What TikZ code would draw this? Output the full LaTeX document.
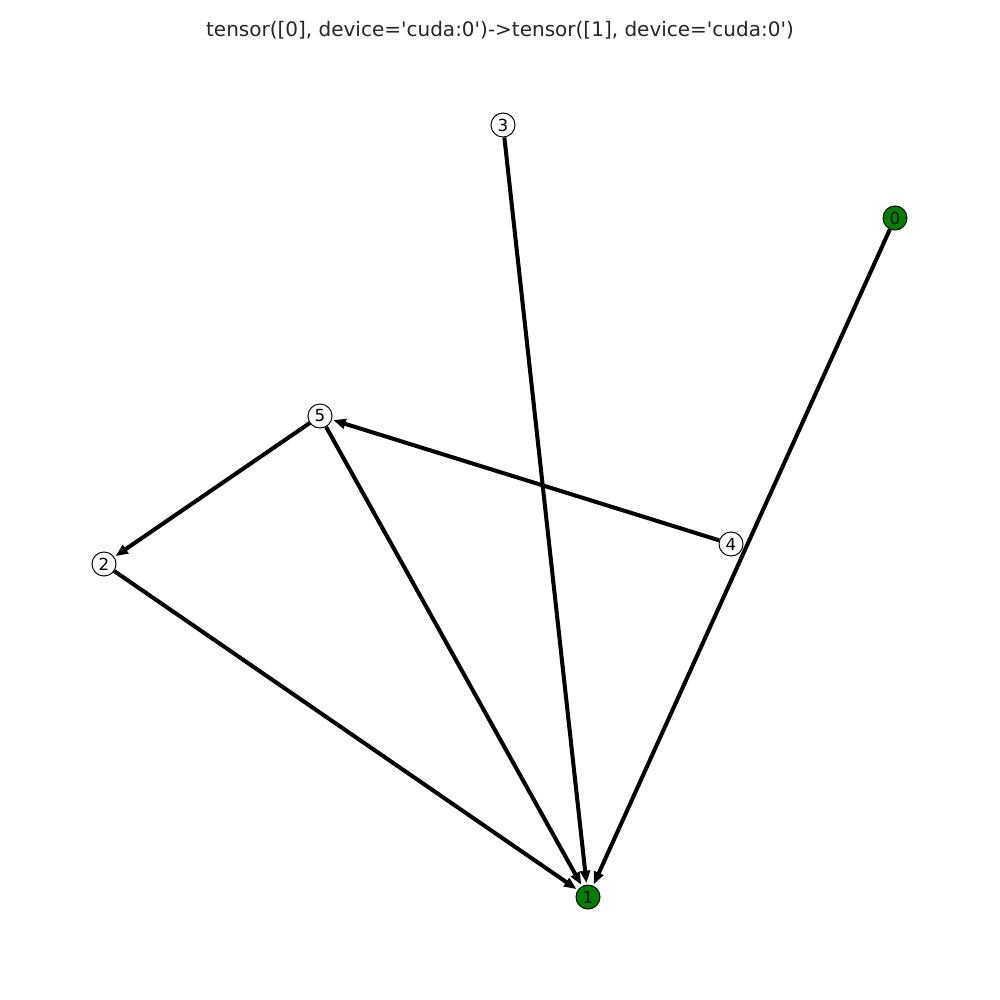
\documentclass[tikz,border=0pt]{standalone}
\usepackage{fontspec}
\setmainfont{DejaVu Sans}[Ligatures=TeXOff]
\usetikzlibrary{arrows.meta}
\begin{document}
\begin{tikzpicture}[x=0.72pt,y=-0.72pt,
  gnode/.style={circle,draw=black,line width=0.7pt,minimum size=17.3pt,inner sep=0pt,font=\fontsize{12}{12}\selectfont},
  wnode/.style={gnode,fill=white},
  greennode/.style={gnode,fill=green!50!black},
  edge/.style={line width=2.9pt,-{Triangle[length=9pt,width=7pt]},shorten >=1pt}]
\useasboundingbox (0,0) rectangle (1000,1000);
\fill[white] (0,0) rectangle (1000,1000);
\node[font=\fontsize{14.4}{14.4}\selectfont,text=black!85] (title) at (500,30) {tensor([0], device='cuda:0')->tensor([1], device='cuda:0')};
\node[wnode] (n3) at (503,125) {3};
\node[greennode] (n0) at (895,218) {0};
\node[wnode] (n5) at (320,416) {5};
\node[wnode] (n4) at (731,544) {4};
\node[wnode] (n2) at (104,564) {2};
\node[greennode] (n1) at (588,897) {1};
\draw[edge] (n3) -- (n1);
\draw[edge] (n0) -- (n1);
\draw[edge] (n5) -- (n2);
\draw[edge] (n5) -- (n1);
\draw[edge] (n4) -- (n5);
\draw[edge] (n2) -- (n1);
\end{tikzpicture}
\end{document}
